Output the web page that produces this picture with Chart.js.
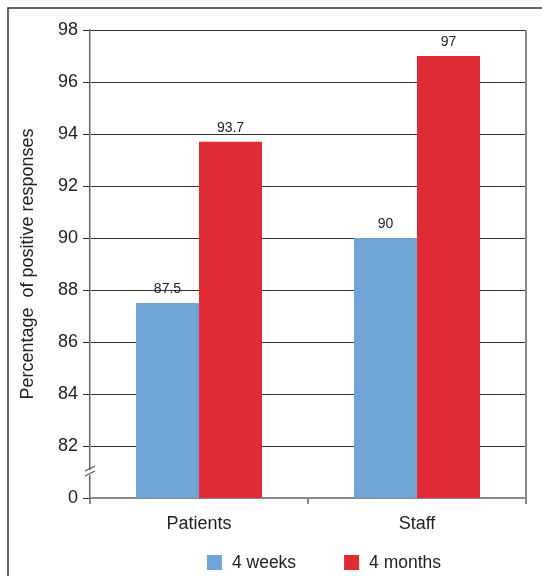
<!DOCTYPE html>
<html>
<head>
<meta charset="utf-8">
<title>Percentage of positive responses</title>
<script src="https://cdn.jsdelivr.net/npm/chart.js@4/dist/chart.umd.min.js"></script>
<style>
  html, body { margin: 0; padding: 0; background: #fff; }
  canvas { display: block; }
</style>
</head>
<body>
<canvas id="chart" width="542" height="576"></canvas>
<script>
// Survey results: share of positive responses by group
const categories = ['Patients', 'Staff'];
const seriesNames = ['4 weeks', '4 months'];
const weeks4 = [87.5, 90];
const months4 = [93.7, 97];
const seriesColors = ['#70a4d7', '#df2b33'];

// Broken value axis: the bottom of the axis stands for 0, then 82..98
const axisFloor = 80;
const floorLabel = '0';
const tickValues = [82, 84, 86, 88, 90, 92, 94, 96, 98];

const FONT = '"Liberation Sans", Arial, Helvetica, sans-serif';
const TEXT = '#222';

// Outer frame (top and left rules)
const framePlugin = {
  id: 'frame',
  beforeDraw(chart) {
    const ctx = chart.ctx;
    ctx.save();
    ctx.strokeStyle = '#333';
    ctx.lineWidth = 1.5;
    ctx.beginPath();
    ctx.moveTo(8, 576);
    ctx.lineTo(8, 8);
    ctx.lineTo(542, 8);
    ctx.stroke();
    ctx.restore();
  }
};

// Right border of plot, axis break mark, value labels, legend
const decorPlugin = {
  id: 'decor',
  afterDatasetsDraw(chart) {
    const ctx = chart.ctx;
    ctx.save();
    ctx.fillStyle = TEXT;
    ctx.font = '14px ' + FONT;
    ctx.textAlign = 'center';
    ctx.textBaseline = 'alphabetic';
    chart.data.datasets.forEach((ds, i) => {
      const meta = chart.getDatasetMeta(i);
      meta.data.forEach((bar, j) => {
        ctx.fillText(String(ds.data[j]), bar.x, bar.y - 10);
      });
    });
    ctx.restore();
  },
  afterDraw(chart) {
    const ctx = chart.ctx;
    const area = chart.chartArea;
    const y = chart.scales.y;
    ctx.save();

    // right edge of plot
    ctx.strokeStyle = '#8a8a8a';
    ctx.lineWidth = 2;
    ctx.beginPath();
    ctx.moveTo(area.right, area.top);
    ctx.lineTo(area.right, area.bottom + 6);
    ctx.stroke();

    // axis break between 0 and 82
    const yb = (y.getPixelForValue(axisFloor) + y.getPixelForValue(tickValues[0])) / 2;
    const xb = area.left;
    ctx.fillStyle = '#fff';
    ctx.fillRect(xb - 2, yb - 2, 4, 5);
    ctx.strokeStyle = '#555';
    ctx.lineWidth = 1.2;
    ctx.beginPath();
    ctx.moveTo(xb - 5, yb - 1);
    ctx.lineTo(xb + 5, yb - 6);
    ctx.moveTo(xb - 5, yb + 4);
    ctx.lineTo(xb + 5, yb - 1);
    ctx.stroke();

    // legend
    ctx.font = '17.5px ' + FONT;
    ctx.textBaseline = 'middle';
    ctx.textAlign = 'left';
    const box = 15, gap = 10, spacing = 48;
    const items = chart.data.datasets.map(ds => ({
      label: ds.label, color: ds.backgroundColor,
      w: box + gap + ctx.measureText(ds.label).width
    }));
    const total = items.reduce((s, it) => s + it.w, 0) + spacing * (items.length - 1);
    let x = (area.left + area.right) / 2 + 16 - total / 2;
    const ly = 562.5;
    items.forEach(it => {
      ctx.fillStyle = it.color;
      ctx.fillRect(x, ly - box / 2, box, box);
      ctx.fillStyle = TEXT;
      ctx.fillText(it.label, x + box + gap, ly + 1);
      x += it.w + spacing;
    });
    ctx.restore();
  }
};

new Chart(document.getElementById('chart'), {
  type: 'bar',
  data: {
    labels: categories,
    datasets: [
      { label: seriesNames[0], data: weeks4, backgroundColor: seriesColors[0] },
      { label: seriesNames[1], data: months4, backgroundColor: seriesColors[1] }
    ]
  },
  options: {
    responsive: false,
    animation: false,
    devicePixelRatio: 1,
    layout: { padding: { left: 0, right: 16, top: 30, bottom: 0 } },
    datasets: {
      bar: { categoryPercentage: 0.578, barPercentage: 1, borderWidth: 0 }
    },
    plugins: {
      legend: { display: false },
      tooltip: { enabled: false }
    },
    scales: {
      x: {
        offset: true,
        grid: {
          drawOnChartArea: false,
          drawTicks: true,
          tickLength: 6,
          color: '#8a8a8a',
          lineWidth: 2
        },
        border: { display: true, color: '#8a8a8a', width: 2 },
        ticks: {
          color: TEXT,
          font: { family: FONT, size: 18 },
          padding: 9
        },
        afterFit(scale) { scale.height = 78; }
      },
      y: {
        min: axisFloor,
        max: tickValues[tickValues.length - 1],
        afterBuildTicks(scale) {
          scale.ticks = [axisFloor].concat(tickValues).map(v => ({ value: v }));
        },
        afterFit(scale) { scale.width = 90; },
        grid: {
          drawTicks: true,
          tickLength: 7,
          color: c => (c.tick && c.tick.value === axisFloor) ? 'rgba(0,0,0,0)' : '#333',
          tickColor: '#333',
          lineWidth: 1
        },
        border: { display: true, color: '#666', width: 1.5 },
        ticks: {
          color: TEXT,
          font: { family: FONT, size: 18 },
          padding: 5,
          callback: v => (v === axisFloor ? floorLabel : String(v))
        },
        title: {
          display: true,
          text: 'Percentage  of positive responses',
          color: TEXT,
          font: { family: FONT, size: 18 },
          padding: { top: 17, bottom: 0 }
        }
      }
    }
  },
  plugins: [framePlugin, decorPlugin]
});
</script>
</body>
</html>
